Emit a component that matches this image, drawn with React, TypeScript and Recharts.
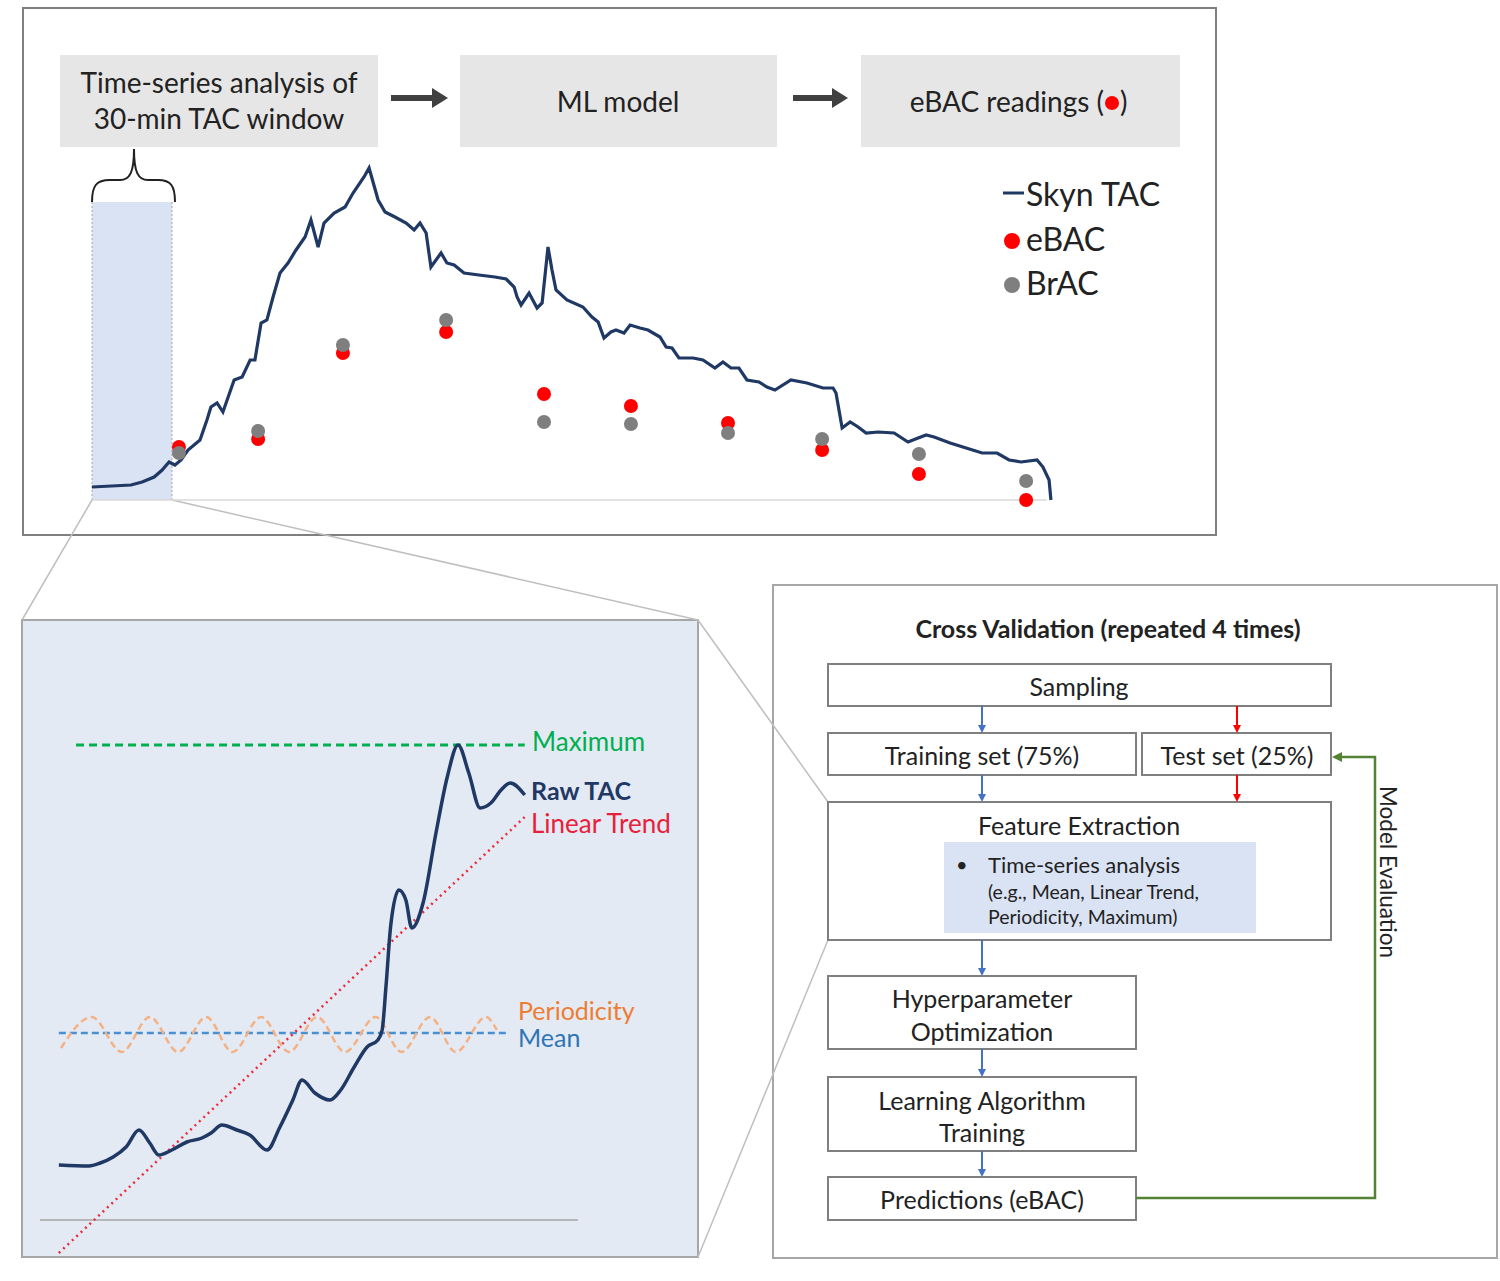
import React from "react";
import {
  ComposedChart,
  Line,
  Scatter,
  XAxis,
  YAxis,
  ReferenceArea,
  ReferenceLine,
} from "recharts";

const FONT = "Lato, 'Open Sans', sans-serif";

// Skyn TAC trace: minutes since start of episode, TAC level
const tacMinutes = [
  0, 14.6, 18.8, 23.3, 26.3, 28.9, 31.1, 33.4, 36, 40.5, 43.1, 44.6, 46.9, 49.1, 53.3, 56.3, 59.3, 61.1,
  63.4, 65.6, 67.9, 70.5, 73.5, 76.5, 79.9, 82.1, 84.8, 87, 90.8, 94.9, 97.9, 102, 103.9, 107.3, 109.9,
  113.6, 117.8, 120.8, 123, 125.3, 127.1, 130.9, 133.1, 135.8, 139.5, 145.1, 151.1, 155.3, 158.3, 159.4,
  160.9, 163.9, 166.9, 168.8, 171, 172.5, 174, 178.1, 184.1, 187.5, 189.8, 192, 194.6, 196.5, 199.5,
  201.8, 205.5, 208.5, 213, 215.3, 217.5, 220.1, 225.4, 229.1, 233.6, 236.6, 239.6, 242.6, 245.6, 250.1,
  253.1, 256.1, 262.1, 268.1, 274.1, 277.9, 279, 281.3, 284.3, 287.3, 290.3, 294.8, 300.8, 306, 309.8,
  312.8, 315.8, 321.8, 327.8, 333.8, 339.4, 343.9, 348.4, 354.4, 356.6, 358.9, 359.6,
];
const tacValues = [
  13, 15, 18, 23, 30, 38, 35, 40, 50, 60, 80, 93, 97, 88, 120, 123, 140, 140,
  177, 180, 203, 227, 237, 250, 263, 280, 253, 277, 287, 293, 307, 323, 332, 300, 288,
  283, 277, 270, 277, 267, 233, 247, 237, 235, 227, 225, 223, 221, 213, 203,
  195, 207, 192, 197, 253, 230, 210, 200, 193, 183, 178, 162, 168, 170, 167,
  175, 172, 170, 163, 153, 152, 142, 142, 140, 132, 138, 132, 132, 120, 118,
  113, 110, 120, 117, 112, 112, 107, 72, 78, 73, 67, 68, 67, 58, 62,
  65, 63, 57, 52, 47, 47, 40, 38, 40, 33, 20, 0,
];

// breath readings
const readingMinutes = [32.6, 62.3, 94.1, 132.8, 169.5, 202.1, 238.5, 273.8, 310.1, 350.3];
const ebacValues = [53, 61, 147, 168, 106, 94, 77, 50, 26, 0];
const bracValues = [47, 69, 155, 180, 78, 76, 67, 61, 46, 19];

// close-up of the 30-min window (relative position, level)
const rawTacX = [
  3.5, 9.1, 11.2, 13.6, 16, 18.4, 20.4, 22.1, 24.5, 27.3, 30.1, 31.8, 33.8, 36.6, 39, 42.2, 44.6, 47, 48.7,
  51.1, 53.9, 55.9, 58.4, 60.8, 62.8, 63.6, 64.3, 65.2, 66.7, 68, 69.1, 71.2, 73.6, 75.7, 77.7, 79.7, 81.8,
  83.8, 85.7, 87.4, 90.1,
];
const rawTacY = [
  11, 10.8, 11.4, 12.6, 14.6, 18, 15.4, 13, 14, 15.6, 16.4, 17.4, 19, 18, 17, 14, 18.6, 24, 28,
  25.4, 24, 26, 30.6, 34.6, 36, 38, 46.6, 59, 66, 64, 58.4, 63.4, 77.4, 88.6, 95, 89.4, 82.4,
  83.4, 86, 87.4, 85,
];
const trendX = [3.5, 90.1];
const trendY = [-6.6, 80.6];
const periodX = [3.9, 9.6, 15.2, 20.4, 25.7, 30.9, 35.8, 41.1, 46.3, 51.5, 56.7, 62.4, 67.2, 72.5, 77.3, 82.9, 84.9];
const periodY = [34.4, 40.6, 33.6, 40.6, 33.6, 40.6, 33.6, 40.6, 33.6, 40.6, 33.6, 40.6, 33.6, 40.6, 33.6, 40.6, 38];
const meanSpan = [3.5, 87];
const meanLevel = 37.4;
const maxSpan = [6.7, 90.1];
const maxLevel = 95;

const tacData = tacMinutes.map((t, i) => ({ t, tac: tacValues[i] }));
const ebacData = readingMinutes.map((t, i) => ({ t, v: ebacValues[i] }));
const bracData = readingMinutes.map((t, i) => ({ t, v: bracValues[i] }));
const rawData = rawTacX.map((x, i) => ({ x, y: rawTacY[i] }));
const trendData = trendX.map((x, i) => ({ x, y: trendY[i] }));
const periodData = periodX.map((x, i) => ({ x, y: periodY[i] }));

const dot = (color: string) => (p: any) => <circle cx={p.cx} cy={p.cy} r={7} fill={color} />;

const TopChart = () => (
  <div style={{ position: "absolute", left: 72, top: 150 }}>
    <ComposedChart width={1000} height={370} margin={{ top: 10, right: 20, bottom: 20, left: 20 }}>
      <XAxis type="number" dataKey="t" domain={[0, 360]} hide />
      <YAxis type="number" domain={[0, 340]} hide />
      <ReferenceArea x1={0} x2={30} y1={0} y2={298} fill="#dae3f3" fillOpacity={1} stroke="none" />
      <ReferenceLine segment={[{ x: 0, y: 0 }, { x: 0, y: 298 }]} stroke="#a6a6a6" strokeDasharray="2 2" />
      <ReferenceLine segment={[{ x: 30, y: 0 }, { x: 30, y: 298 }]} stroke="#a6a6a6" strokeDasharray="2 2" />
      <ReferenceLine segment={[{ x: 0, y: 0 }, { x: 358, y: 0 }]} stroke="#d9d9d9" strokeWidth={1.5} />
      <Line data={tacData} dataKey="tac" type="linear" stroke="#1f3864" strokeWidth={3.2} dot={false} activeDot={false} isAnimationActive={false} />
      <Scatter data={ebacData} dataKey="v" shape={dot("#ff0000")} isAnimationActive={false} />
      <Scatter data={bracData} dataKey="v" shape={dot("#7f7f7f")} isAnimationActive={false} />
    </ComposedChart>
  </div>
);

const WindowChart = () => (
  <div style={{ position: "absolute", left: 20, top: 700 }}>
    <ComposedChart width={578} height={565} margin={{ top: 20, right: 20, bottom: 5, left: 20 }}>
      <XAxis type="number" dataKey="x" domain={[0, 100]} hide />
      <YAxis type="number" domain={[-8, 100]} hide />
      <ReferenceLine segment={[{ x: 0, y: 0 }, { x: 100, y: 0 }]} stroke="#a6a6a6" strokeWidth={1.5} />
      <ReferenceLine segment={[{ x: maxSpan[0], y: maxLevel }, { x: maxSpan[1], y: maxLevel }]} stroke="#00b050" strokeWidth={3} strokeDasharray="8 5" />
      <ReferenceLine segment={[{ x: meanSpan[0], y: meanLevel }, { x: meanSpan[1], y: meanLevel }]} stroke="#4a90d0" strokeWidth={2.5} strokeDasharray="7 4" />
      <Line data={periodData} dataKey="y" type="monotone" stroke="#f4b183" strokeWidth={2.5} strokeDasharray="7 4" dot={false} activeDot={false} isAnimationActive={false} />
      <Line data={trendData} dataKey="y" type="linear" stroke="#ee2a3a" strokeWidth={2.5} strokeDasharray="2 4" dot={false} activeDot={false} isAnimationActive={false} />
      <Line data={rawData} dataKey="y" type="monotone" stroke="#1f3864" strokeWidth={3.5} dot={false} activeDot={false} isAnimationActive={false} />
    </ComposedChart>
  </div>
);

const Arrow = ({ x, y1, y2, color }: { x: number; y1: number; y2: number; color: string }) => (
  <g>
    <line x1={x} y1={y1} x2={x} y2={y2 - 6} stroke={color} strokeWidth={2} />
    <polygon points={`${x - 4},${y2 - 8} ${x + 4},${y2 - 8} ${x},${y2}`} fill={color} />
  </g>
);

const Box = ({ x, y, w, h }: { x: number; y: number; w: number; h: number }) => (
  <rect x={x} y={y} width={w} height={h} fill="#fff" stroke="#7f7f7f" strokeWidth={2} />
);

const Txt = ({ x, y, s, children, w, c, a }: any) => (
  <text x={x} y={y} fontSize={s} fontWeight={w || 400} fill={c || "#222"} textAnchor={a || "middle"} dominantBaseline="central" fontFamily={FONT}>
    {children}
  </text>
);

const Backdrop = () => (
  <svg width={1500} height={1281} style={{ position: "absolute", left: 0, top: 0 }}>
    {/* top panel */}
    <rect x={23} y={8} width={1193} height={527} fill="#fff" stroke="#7f7f7f" strokeWidth={2} />
    <rect x={60} y={55} width={318} height={92} fill="#e7e6e6" />
    <rect x={460} y={55} width={317} height={92} fill="#e7e6e6" />
    <rect x={861} y={55} width={319} height={92} fill="#e7e6e6" />
    <Txt x={219} y={82} s={28}>Time-series analysis of</Txt>
    <Txt x={219} y={118} s={28}>30-min TAC window</Txt>
    <Txt x={618} y={101} s={28}>ML model</Txt>
    <Txt x={1104} y={101} s={28} a="end">eBAC readings (</Txt>
    <circle cx={1112} cy={103} r={7} fill="#ff0000" />
    <Txt x={1120} y={101} s={28} a="start">)</Txt>
    {[[391, 448], [793, 848]].map(([a, b]) => (
      <g key={a}>
        <rect x={a} y={95} width={b - a - 14} height={6} fill="#404040" />
        <polygon points={`${b - 16},88 ${b - 16},108 ${b},98`} fill="#404040" />
      </g>
    ))}
    <path d="M92 202 C92 186 96 180 110 180 L120 180 C130 180 134 172 134 149 C134 172 138 180 148 180 L158 180 C171 180 175 186 175 202" fill="none" stroke="#222" strokeWidth={2} />
    <line x1={1003} y1={193} x2={1024} y2={193} stroke="#1f3864" strokeWidth={3} />
    <Txt x={1026} y={193} s={32} a="start">Skyn TAC</Txt>
    <circle cx={1012} cy={241} r={8} fill="#ff0000" />
    <Txt x={1026} y={238} s={32} a="start">eBAC</Txt>
    <circle cx={1012} cy={285} r={8} fill="#7f7f7f" />
    <Txt x={1026} y={282} s={32} a="start">BrAC</Txt>

    {/* close-up panel */}
    <rect x={22} y={620} width={676} height={637} fill="#e4eaf4" stroke="#a6a6a6" strokeWidth={2} />
    <Txt x={532} y={741} s={26} c="#00b050" a="start">Maximum</Txt>
    <Txt x={531} y={790} s={25} w={700} c="#1f3864" a="start">Raw TAC</Txt>
    <Txt x={531} y={823} s={26} c="#e8203a" a="start">Linear Trend</Txt>
    <Txt x={518} y={1010} s={25} c="#ed7d31" a="start">Periodicity</Txt>
    <Txt x={518} y={1037} s={25} c="#2e75b6" a="start">Mean</Txt>

    {/* cross validation panel */}
    <rect x={773} y={585} width={724} height={673} fill="#fff" stroke="#a6a6a6" strokeWidth={2} />

    {/* zoom guides */}
    <g stroke="#bfbfbf" strokeWidth={1.5}>
      <line x1={92} y1={500} x2={22} y2={620} />
      <line x1={172} y1={500} x2={698} y2={620} />
      <line x1={698} y1={620} x2={828} y2={802} />
      <line x1={698} y1={1257} x2={828} y2={940} />
    </g>

    <Txt x={1108} y={628} s={25} w={700}>Cross Validation (repeated 4 times)</Txt>
    <Box x={828} y={664} w={503} h={42} />
    <Box x={828} y={733} w={308} h={42} />
    <Box x={1142} y={733} w={189} h={42} />
    <Box x={828} y={802} w={503} h={138} />
    <rect x={944} y={842} width={312} height={91} fill="#dae3f3" />
    <Box x={828} y={976} w={308} h={73} />
    <Box x={828} y={1077} w={308} h={74} />
    <Box x={828} y={1177} w={308} h={43} />
    <Txt x={1079} y={686} s={25}>Sampling</Txt>
    <Txt x={982} y={755} s={25}>Training set (75%)</Txt>
    <Txt x={1237} y={755} s={25}>Test set (25%)</Txt>
    <Txt x={1079} y={825} s={25}>Feature Extraction</Txt>
    <Txt x={956} y={864} s={20} a="start">•</Txt>
    <Txt x={988} y={864} s={22} a="start">Time-series analysis</Txt>
    <Txt x={988} y={891} s={19.5} a="start">(e.g., Mean, Linear Trend,</Txt>
    <Txt x={988} y={916} s={19.5} a="start">Periodicity, Maximum)</Txt>
    <Txt x={982} y={998} s={25}>Hyperparameter</Txt>
    <Txt x={982} y={1031} s={25}>Optimization</Txt>
    <Txt x={982} y={1100} s={25}>Learning Algorithm</Txt>
    <Txt x={982} y={1132} s={25}>Training</Txt>
    <Txt x={982} y={1199} s={25}>Predictions (eBAC)</Txt>
    <Arrow x={982} y1={706} y2={733} color="#4472c4" />
    <Arrow x={1237} y1={706} y2={733} color="#ff0000" />
    <Arrow x={982} y1={775} y2={802} color="#4472c4" />
    <Arrow x={1237} y1={775} y2={802} color="#ff0000" />
    <Arrow x={982} y1={940} y2={976} color="#4472c4" />
    <Arrow x={982} y1={1049} y2={1077} color="#4472c4" />
    <Arrow x={982} y1={1151} y2={1177} color="#4472c4" />
    <polyline points="1136,1198 1375,1198 1375,757 1340,757" fill="none" stroke="#548235" strokeWidth={2.5} />
    <polygon points="1332,757 1342,752 1342,762" fill="#548235" />
    <g transform="translate(1388,872) rotate(90)">
      <Txt x={0} y={0} s={22.5}>Model Evaluation</Txt>
    </g>
  </svg>
);

export default function App() {
  return (
    <div style={{ position: "absolute", left: 0, top: 0, width: 1500, height: 1281, background: "#fff", fontFamily: FONT }}>
      <Backdrop />
      <TopChart />
      <WindowChart />
    </div>
  );
}
